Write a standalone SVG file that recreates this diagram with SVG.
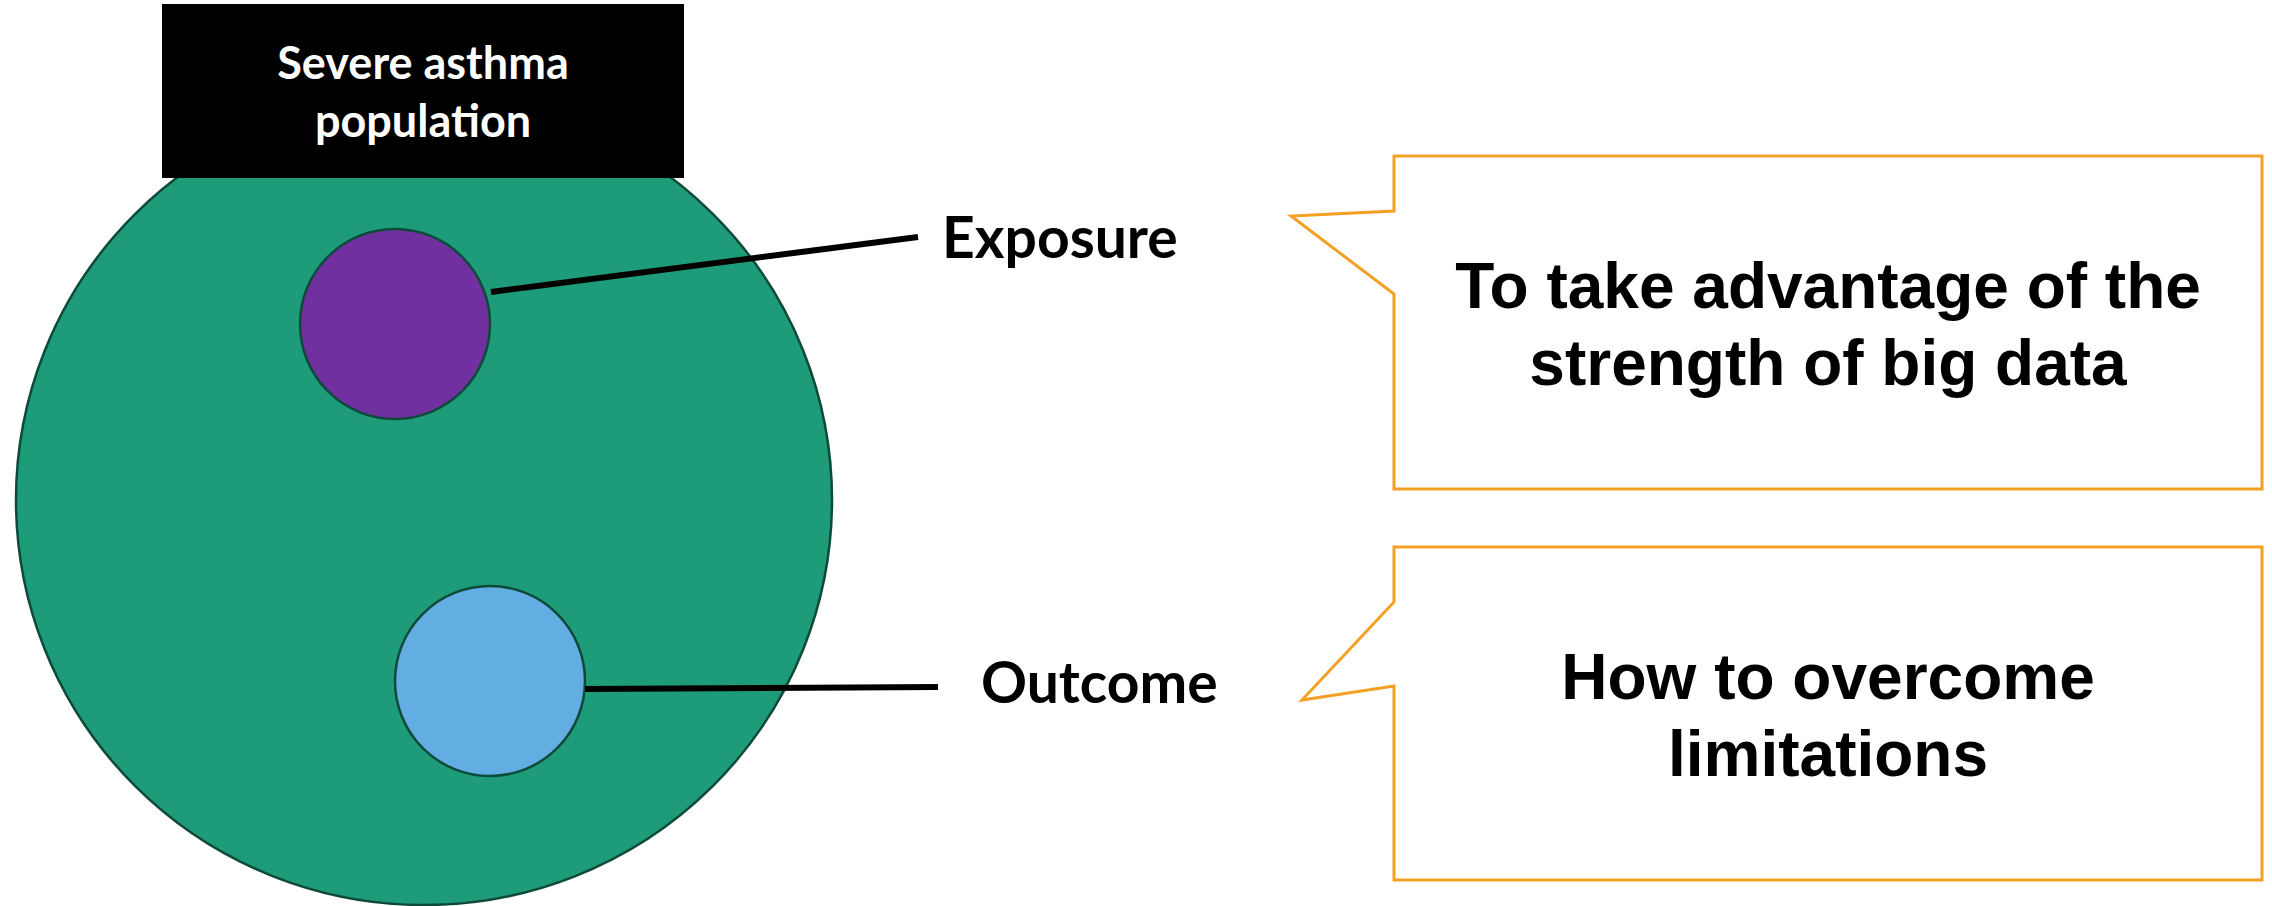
<svg xmlns="http://www.w3.org/2000/svg" width="2272" height="906" viewBox="0 0 2272 906">
<style>
.lbl{font-family:Lato,"Open Sans","Liberation Sans",sans-serif;font-weight:bold;font-size:57px;fill:#000}
.hdr{font-family:Lato,"Open Sans","Liberation Sans",sans-serif;font-weight:bold;font-size:45px;fill:#fff;text-anchor:middle}
.big{font-family:"Liberation Sans",Arial,sans-serif;font-weight:bold;font-size:64px;fill:#000;text-anchor:middle}
.call{fill:#fff;stroke:#F4A024;stroke-width:3}
.sub{stroke:#0E4A3A;stroke-width:2.5}
.conn{stroke:#000;stroke-width:6;fill:none}
</style>
<rect width="2272" height="906" fill="#fff"/>
<g id="population">
<ellipse cx="424" cy="500" rx="408" ry="405" fill="#1E9B79" stroke="#0E4A3A" stroke-width="2.5"/>
</g>
<g id="population-label">
<rect x="162" y="4" width="522" height="174" fill="#000"/>
<text class="hdr" x="423" y="79">Severe asthma</text>
<text class="hdr" x="423" y="137">population</text>
</g>
<g id="exposure-node">
<circle cx="395" cy="324" r="95" fill="#7030A0" class="sub"/>
</g>
<g id="outcome-node">
<circle cx="490" cy="681" r="95" fill="#62AEE3" class="sub"/>
</g>
<g id="connectors">
<line class="conn" x1="491" y1="292" x2="918" y2="237"/>
<line class="conn" x1="585" y1="689" x2="938" y2="687"/>
</g>
<g id="exposure-label">
<text class="lbl" x="942" y="258">Exposure</text>
</g>
<g id="outcome-label">
<text class="lbl" x="981" y="703">Outcome</text>
</g>
<g id="callout-big-data">
<path class="call" d="M1394,156 H2262 V489 H1394 V294 L1291,216 L1394,211 Z"/>
<text class="big" x="1828" y="308">To take advantage of the</text>
<text class="big" x="1828" y="385">strength of big data</text>
</g>
<g id="callout-limitations">
<path class="call" d="M1394,547 H2262 V880 H1394 V686 L1302,700 L1394,602 Z"/>
<text class="big" x="1828" y="699">How to overcome</text>
<text class="big" x="1828" y="776">limitations</text>
</g>
</svg>
